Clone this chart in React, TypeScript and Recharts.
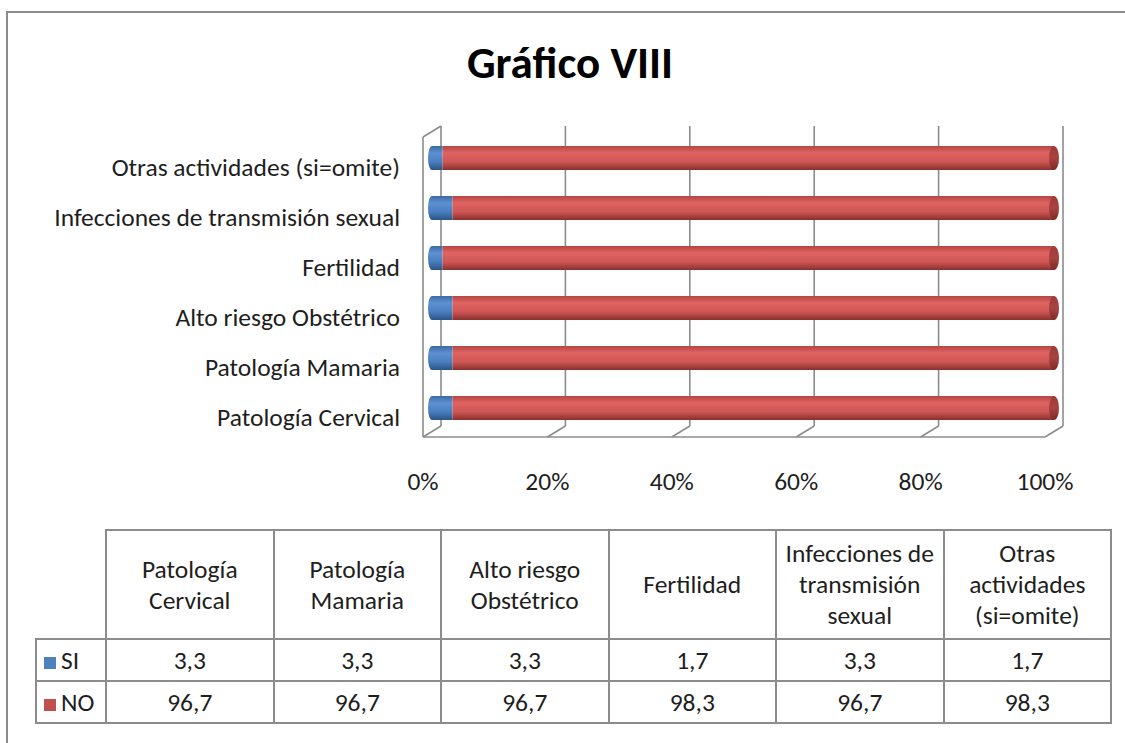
import React from "react";
import { BarChart, Bar, XAxis, YAxis, CartesianGrid } from "recharts";

const categories = [
    "Patología Cervical",
    "Patología Mamaria",
    "Alto riesgo Obstétrico",
    "Fertilidad",
    "Infecciones de transmisión sexual",
    "Otras actividades (si=omite)",
];
const headerLabels = [
    "Patología\nCervical",
    "Patología\nMamaria",
    "Alto riesgo\nObstétrico",
    "Fertilidad",
    "Infecciones de\ntransmisión\nsexual",
    "Otras\nactividades\n(si=omite)",
];
const siValues = [3.3, 3.3, 3.3, 1.7, 3.3, 1.7];
const noValues = [96.7, 96.7, 96.7, 98.3, 96.7, 98.3];
const xTicks = [0, 20, 40, 60, 80, 100];

const FONT = "Carlito, Calibri, 'Open Sans', sans-serif";
const GRID = "#8c8c8c";
const TEXT = "#1e1e1e";
// 3d depth offset (back wall vs front)
const DX = 18;
const DY = 11;

const data = categories.map((c, i) => ({ name: c, si: siValues[i], no: noValues[i] }));

function fmt(v: number) {
    return v.toFixed(1).replace(".", ",");
}

function SiShape(props: any) {
    const { x, y, width, height } = props;
    const bx = x + DX / 2;
    const by = y - 4;
    return (
        <g>
            <ellipse cx={bx} cy={by + height / 2} rx={4} ry={height / 2} fill="url(#gSi)" />
            <rect x={bx} y={by} width={width} height={height} fill="url(#gSi)" />
        </g>
    );
}

function NoShape(props: any) {
    const { x, y, width, height } = props;
    const bx = x + DX / 2;
    const by = y - 4;
    return (
        <g>
            <rect x={bx} y={by} width={width} height={height} fill="url(#gNo)" />
            <ellipse cx={bx + width} cy={by + height / 2} rx={5} ry={height / 2} fill="url(#gNoCap)" />
        </g>
    );
}

function GridLine(props: any) {
    const { x1, y1, y2, index } = props;
    return (
        <g key={`g-${index}`}>
            <line x1={x1 + DX} y1={y1 - DY} x2={x1 + DX} y2={y2 - DY} stroke={GRID} strokeWidth={1.6} />
            <line x1={x1 + DX} y1={y2 - DY} x2={x1} y2={y2} stroke={GRID} strokeWidth={1.6} />
            {index === 0 && (
                <line x1={x1} y1={y1} x2={x1 + DX} y2={y1 - DY} stroke={GRID} strokeWidth={1.6} />
            )}
        </g>
    );
}

const cell: React.CSSProperties = {
    border: `2px solid ${GRID}`,
    textAlign: "center",
    verticalAlign: "middle",
    padding: 0,
};

export default function App() {
    return (
        <div style={{ position: "relative", width: 1125, height: 743, overflow: "hidden", background: "#fff", fontFamily: FONT, color: TEXT }}>
            <style>{"body{margin:0}"}</style>
            <div style={{ position: "absolute", left: 6, top: 11, width: 1200, height: 800, borderLeft: `2px solid ${GRID}`, borderTop: `2px solid ${GRID}` }} />
            <div style={{ position: "absolute", left: 0, top: 36, width: 1140, textAlign: "center", fontSize: 45, lineHeight: "53px", fontWeight: "bold", color: "#000" }}>
                Gráfico VIII
            </div>
            <div style={{ position: "absolute", left: 0, top: 0 }}>
                <BarChart
                    width={1125}
                    height={520}
                    data={data}
                    layout="vertical"
                    barSize={24}
                    margin={{ top: 137, right: 80, bottom: 23, left: 0 }}
                >
                    <defs>
                        <linearGradient id="gSi" x1="0" y1="0" x2="0" y2="1">
                            <stop offset="0%" stopColor="#3d6aa3" />
                            <stop offset="30%" stopColor="#5d91d2" />
                            <stop offset="65%" stopColor="#4a7ebf" />
                            <stop offset="100%" stopColor="#2c5486" />
                        </linearGradient>
                        <linearGradient id="gNo" x1="0" y1="0" x2="0" y2="1">
                            <stop offset="0%" stopColor="#b34543" />
                            <stop offset="28%" stopColor="#df6361" />
                            <stop offset="65%" stopColor="#cf5755" />
                            <stop offset="100%" stopColor="#8a302e" />
                        </linearGradient>
                        <linearGradient id="gNoCap" x1="0" y1="0" x2="0" y2="1">
                            <stop offset="0%" stopColor="#9e3c3a" />
                            <stop offset="50%" stopColor="#a84341" />
                            <stop offset="100%" stopColor="#7a2a28" />
                        </linearGradient>
                    </defs>
                    <CartesianGrid horizontal={false} vertical={GridLine as any} />
                    <XAxis
                        type="number"
                        domain={[0, 100]}
                        ticks={xTicks}
                        tickFormatter={(v: number) => `${v}%`}
                        axisLine={{ stroke: GRID, strokeWidth: 1.6 }}
                        tickLine={false}
                        tickSize={0}
                        tickMargin={35}
                        height={60}
                        tick={{ fontSize: 25.5, fill: TEXT, fontFamily: FONT }}
                    />
                    <YAxis
                        type="category"
                        dataKey="name"
                        reversed
                        width={423}
                        axisLine={{ stroke: GRID, strokeWidth: 1.6 }}
                        tickLine={false}
                        tickSize={0}
                        tickMargin={23}
                        interval={0}
                        tick={{ fontSize: 25.5, fill: TEXT, fontFamily: FONT, dy: 5 }}
                    />
                    <Bar dataKey="si" stackId="a" shape={SiShape} isAnimationActive={false} />
                    <Bar dataKey="no" stackId="a" shape={NoShape} isAnimationActive={false} />
                </BarChart>
            </div>
            <table
                style={{
                    position: "absolute",
                    left: 35,
                    top: 529,
                    width: 1075,
                    borderCollapse: "collapse",
                    tableLayout: "fixed",
                    fontSize: 25.5,
                    fontFamily: FONT,
                    color: TEXT,
                }}
            >
                <colgroup>
                    <col style={{ width: 70 }} />
                    {categories.map((c) => (
                        <col key={c} style={{ width: 167.5 }} />
                    ))}
                </colgroup>
                <tbody>
                    <tr style={{ height: 109 }}>
                        <td style={{ border: "none" }} />
                        {headerLabels.map((h) => (
                            <td key={h} style={{ ...cell, whiteSpace: "pre-line", lineHeight: "31px" }}>
                                {h}
                            </td>
                        ))}
                    </tr>
                    <tr style={{ height: 42 }}>
                        <td style={{ ...cell, textAlign: "left", paddingLeft: 7, whiteSpace: "nowrap" }}>
                            <span style={{ display: "inline-block", width: 12, height: 12, background: "#4f81bd", marginRight: 5 }} />
                            SI
                        </td>
                        {siValues.map((v, i) => (
                            <td key={i} style={cell}>{fmt(v)}</td>
                        ))}
                    </tr>
                    <tr style={{ height: 42 }}>
                        <td style={{ ...cell, textAlign: "left", paddingLeft: 7, whiteSpace: "nowrap" }}>
                            <span style={{ display: "inline-block", width: 12, height: 12, background: "#c0504d", marginRight: 5 }} />
                            NO
                        </td>
                        {noValues.map((v, i) => (
                            <td key={i} style={cell}>{fmt(v)}</td>
                        ))}
                    </tr>
                </tbody>
            </table>
        </div>
    );
}
